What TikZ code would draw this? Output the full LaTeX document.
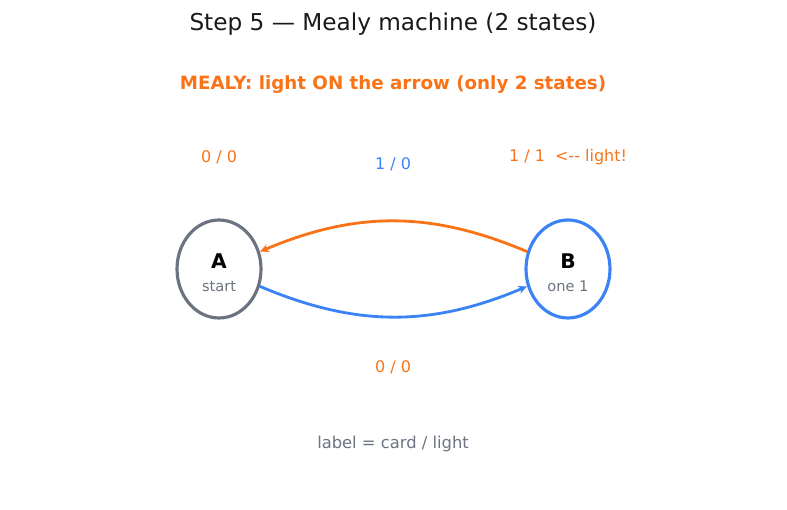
\documentclass[tikz,border=0pt]{standalone}
\usepackage{fontspec}
\setmainfont{DejaVu Sans}
\usetikzlibrary{arrows.meta, positioning, shapes.geometric}
\definecolor{mealyorange}{HTML}{F97316}
\definecolor{mealyblue}{HTML}{3B82F6}
\definecolor{mealygray}{HTML}{6B7280}

\begin{document}
\begin{tikzpicture}[x=0.02cm, y=0.02cm,
    state/.style={ellipse, draw, line width=1.8pt, minimum width=1.68cm, minimum height=1.96cm, inner sep=0pt},
    edgelbl/.style={font=\fontsize{9.1}{11}\selectfont},
    subtxt/.style={font=\fontsize{8.3}{10}\selectfont, text=mealygray},
    trans/.style={line width=1.6pt, -{Stealth[length=5pt, width=4.5pt]}}]
    \useasboundingbox (0,0) rectangle (787,510);

    \node[font=\fontsize{13.2}{16}\selectfont, text=black!90] (title) at (393,486) {Step 5 — Mealy machine (2 states)};
    \node[font=\fontsize{10.4}{13}\selectfont\bfseries, text=mealyorange] (note) at (393,425) {MEALY: light ON the arrow (only 2 states)};

    \node[state, draw=mealygray] (A) at (219,241) {};
    \node[state, draw=mealyblue] (B) at (568,241) {};
    \node[font=\fontsize{11.5}{13}\selectfont\bfseries] (Aname) at (219,249) {A};
    \node[subtxt] (Asub) at (219,224) {start};
    \node[font=\fontsize{11.5}{13}\selectfont\bfseries] (Bname) at (568,249) {B};
    \node[subtxt] (Bsub) at (568,224) {one 1};

    \draw[trans, mealyorange] (B) to[bend right=23] (A);
    \draw[trans, mealyblue] (A) to[bend right=23] (B);

    \node[edgelbl, text=mealyorange] (loopA) at (219,353) {0 / 0};
    \node[edgelbl, text=mealyblue] (topmid) at (393,346) {1 / 0};
    \node[edgelbl, text=mealyorange] (loopB) at (568,353) {1 / 1\ \ <-{}- light!};
    \node[edgelbl, text=mealyorange] (botmid) at (393,143) {0 / 0};

    \node[edgelbl, font=\fontsize{9.3}{11}\selectfont, text=mealygray] (legend) at (393,66) {label = card / light};
\end{tikzpicture}
\end{document}
